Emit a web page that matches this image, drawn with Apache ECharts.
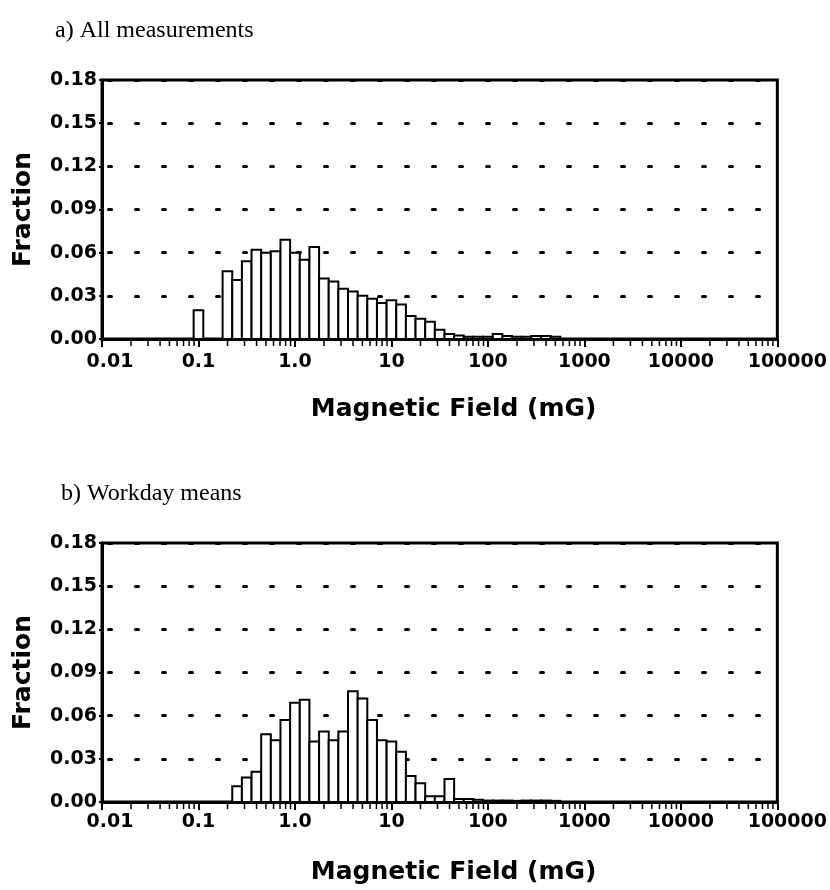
<!DOCTYPE html>
<html>
<head>
<meta charset="utf-8">
<script src="https://cdn.jsdelivr.net/npm/echarts@6/dist/echarts.min.js"></script>
<style>
html,body{margin:0;padding:0;background:#fff;}
#chart{width:830px;height:890px;}
</style>
</head>
<body>
<div id="chart"></div>
<script>
// ---- data ----
const xTickLog = [-2, -1, 0, 1, 2, 3, 4, 5];            // log10 of field (mG)
const xTickLabels = ['0.01', '0.1', '1.0', '10', '100', '1000', '10000', '100000'];
const minorMultipliers = [2, 3, 4, 5, 6, 7, 8, 9];

// a) All measurements: bin centres (log10 mG) and fractions
const allBins = [-1.0, -0.7, -0.6, -0.5, -0.4, -0.3, -0.2, -0.1, 0.0, 0.1, 0.2, 0.3, 0.4, 0.5, 0.6, 0.7, 0.8, 0.9,
                 1.0, 1.1, 1.2, 1.3, 1.4, 1.5, 1.6, 1.7, 1.8, 1.9, 2.0, 2.1, 2.2, 2.3, 2.4, 2.5, 2.6, 2.7];
const allFraction = [0.020, 0.047, 0.041, 0.054, 0.062, 0.060, 0.061, 0.069, 0.060, 0.055, 0.064, 0.042, 0.040, 0.035, 0.033, 0.030, 0.028, 0.025,
                     0.027, 0.024, 0.016, 0.014, 0.012, 0.0065, 0.0035, 0.0025, 0.0015, 0.0015, 0.0015, 0.0035, 0.002, 0.0015, 0.0015, 0.002, 0.002, 0.0015];

// b) Workday means
const workBins = [-0.6, -0.5, -0.4, -0.3, -0.2, -0.1, 0.0, 0.1, 0.2, 0.3, 0.4, 0.5, 0.6, 0.7, 0.8, 0.9,
                  1.0, 1.1, 1.2, 1.3, 1.4, 1.5, 1.6, 1.7, 1.8, 1.9, 2.0, 2.1, 2.2, 2.3, 2.4, 2.5, 2.6, 2.7];
const workFraction = [0.011, 0.017, 0.021, 0.047, 0.043, 0.057, 0.069, 0.071, 0.042, 0.049, 0.043, 0.049, 0.077, 0.072, 0.057, 0.043,
                      0.042, 0.035, 0.018, 0.013, 0.004, 0.004, 0.016, 0.002, 0.002, 0.0015, 0.001, 0.001, 0.001, 0.0008, 0.001, 0.001, 0.001, 0.0008];

const binWidthLog = 0.1;

// ---- helpers ----
const SANS = 'DejaVu Sans';
const SERIF = 'Liberation Serif';

const minorTicks = [];
for (let d = xTickLog[0]; d < xTickLog[xTickLog.length - 1]; d++) {
  minorMultipliers.forEach(m => minorTicks.push([d + Math.log10(m)]));
}

function barItem(params, api) {
  const c = api.value(0), v = api.value(1);
  const p0 = api.coord([c - binWidthLog / 2, v]);
  const p1 = api.coord([c + binWidthLog / 2, 0]);
  return {
    type: 'rect',
    shape: { x: p0[0], y: p0[1], width: p1[0] - p0[0], height: p1[1] - p0[1] },
    style: { fill: '#fff', stroke: '#000', lineWidth: 2 }
  };
}
function minorTickItem(params, api) {
  const p = api.coord([api.value(0), 0]);
  return {
    type: 'line',
    shape: { x1: p[0], y1: p[1] + 1.5, x2: p[0], y2: p[1] + 7 },
    style: { stroke: '#000', lineWidth: 1.5 }
  };
}

const labelFont = { fontFamily: SANS, fontWeight: 'bold', fontSize: 19, color: '#000' };

function makeX(gridIndex, margin) {
  return {
    type: 'value', gridIndex, min: -2, max: 5, interval: 1,
    name: 'Magnetic Field (mG)', nameLocation: 'middle', nameGap: 58,
    nameTextStyle: { fontFamily: SANS, fontWeight: 'bold', fontSize: 25, color: '#000', padding: [0, 0, 0, 28] },
    axisLine: { show: true, onZero: false, lineStyle: { color: '#000', width: 3 } },
    axisTick: { show: true, inside: false, length: 8, lineStyle: { color: '#000', width: 2 } },
    splitLine: { show: false },
    axisLabel: Object.assign({}, labelFont, {
      margin: margin, showMinLabel: true, showMaxLabel: true,
      formatter: function (v) {
        const i = xTickLog.indexOf(Math.round(v));
        if (i < 0) return '';
        if (i === 0) return '{first|' + xTickLabels[i] + '}';
        if (i === xTickLabels.length - 1) return '{last|' + xTickLabels[i] + '}';
        return xTickLabels[i];
      },
      rich: {
        first: Object.assign({}, labelFont, { padding: [0, 0, 0, 16] }),
        last: Object.assign({}, labelFont, { padding: [0, 0, 0, 20] })
      }
    })
  };
}
function makeY(gridIndex) {
  return {
    type: 'value', gridIndex, min: 0, max: 0.18, interval: 0.03,
    name: 'Fraction', nameLocation: 'middle', nameGap: 66,
    nameTextStyle: { fontFamily: SANS, fontWeight: 'bold', fontSize: 25, color: '#000' },
    axisLine: { show: true, onZero: false, lineStyle: { color: '#000', width: 3 } },
    axisTick: { show: true, inside: false, length: 3, lineStyle: { color: '#000', width: 2 } },
    axisLabel: Object.assign({}, labelFont, { margin: 5, formatter: v => v.toFixed(2) }),
    splitLine: { show: true, lineStyle: { color: '#000', width: 3, type: [3, 24], cap: 'round', dashOffset: 20.5 } }
  };
}

const chart = echarts.init(document.getElementById('chart'), null, { renderer: 'canvas' });
chart.setOption({
  animation: false,
  backgroundColor: '#fff',
  title: [
    { text: 'a) All measurements', left: 50, top: 14,
      textStyle: { fontFamily: SERIF, fontWeight: 'normal', fontSize: 24, color: '#000' } },
    { text: 'b) Workday means', left: 56, top: 477,
      textStyle: { fontFamily: SERIF, fontWeight: 'normal', fontSize: 24, color: '#000' } }
  ],
  grid: [
    { left: 102, top: 80, width: 677, height: 259, show: true, borderColor: '#000', borderWidth: 3, backgroundColor: 'transparent' },
    { left: 102, top: 543, width: 677, height: 259, show: true, borderColor: '#000', borderWidth: 3, backgroundColor: 'transparent' }
  ],
  xAxis: [makeX(0, 14), makeX(1, 11)],
  yAxis: [makeY(0), makeY(1)],
  series: [
    { type: 'custom', name: 'All measurements', xAxisIndex: 0, yAxisIndex: 0, clip: true,
      renderItem: barItem, data: allBins.map((b, i) => [b, allFraction[i]]), z: 3 },
    { type: 'custom', name: 'Workday means', xAxisIndex: 1, yAxisIndex: 1, clip: true,
      renderItem: barItem, data: workBins.map((b, i) => [b, workFraction[i]]), z: 3 },
    { type: 'custom', xAxisIndex: 0, yAxisIndex: 0, clip: false, silent: true,
      renderItem: minorTickItem, data: minorTicks, z: 4 },
    { type: 'custom', xAxisIndex: 1, yAxisIndex: 1, clip: false, silent: true,
      renderItem: minorTickItem, data: minorTicks, z: 4 }
  ]
});
</script>
</body>
</html>
